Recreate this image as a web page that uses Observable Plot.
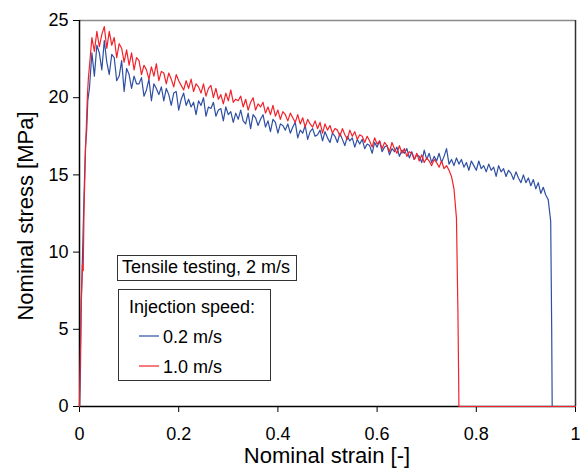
<!DOCTYPE html>
<html><head><meta charset="utf-8">
<script src="https://cdn.jsdelivr.net/npm/d3@7"></script>
<script src="https://cdn.jsdelivr.net/npm/@observablehq/plot@0.6"></script>
<style>body{margin:0;background:#fff;} #chart{width:580px;height:469px;}</style>
</head><body><div id="chart"></div>
<script>
const seriesNames = ["0.2 m/s", "1.0 m/s"];
const seriesColors = ["#2E4FA3", "#F2222B"];
const xTicks = [0, 0.2, 0.4, 0.6, 0.8, 1];
const yTicks = [0, 5, 10, 15, 20, 25];
const xLabel = "Nominal strain [-]";
const yLabel = "Nominal stress [MPa]";
const testLabel = "Tensile testing, 2 m/s";
const legendTitle = "Injection speed:";

const blueStrain = [0, 0.002, 0.0035, 0.005, 0.0067, 0.009, 0.012, 0.0145, 0.0167,
 0.020,0.025,0.030,0.035,0.040,0.045,0.050,0.055,0.060,0.065,
 0.070,0.075,0.080,0.085,0.090,0.095,0.100,0.105,0.110,0.115,
 0.120,0.125,0.130,0.135,0.140,0.145,0.150,0.155,0.160,0.165,
 0.170,0.175,0.180,0.185,0.190,0.195,0.200,0.205,0.210,0.215,
 0.220,0.225,0.230,0.235,0.240,0.245,0.250,0.255,0.260,0.265,
 0.270,0.275,0.280,0.285,0.290,0.295,0.300,0.305,0.310,0.315,
 0.320,0.325,0.330,0.335,0.340,0.345,0.350,0.355,0.360,0.365,
 0.370,0.375,0.380,0.385,0.390,0.395,0.400,0.405,0.410,0.415,
 0.420,0.425,0.430,0.435,0.440,0.445,0.450,0.455,0.460,0.465,
 0.470,0.475,0.480,0.485,0.490,0.495,0.500,0.505,0.510,0.515,
 0.520,0.525,0.530,0.535,0.540,0.545,0.550,0.555,0.560,0.565,
 0.570,0.575,0.580,0.585,0.590,0.595,0.600,0.605,0.610,0.615,
 0.620,0.625,0.630,0.635,0.640,0.645,0.650,0.655,0.660,0.665,
 0.670,0.675,0.680,0.685,0.690,0.695,0.700,0.705,0.710,0.715,
 0.720,0.725,0.730,0.735,0.740,0.745,0.750,0.755,0.760,0.765,
 0.770,0.775,0.780,0.785,0.790,0.795,0.800,0.805,0.810,0.815,
 0.820,0.825,0.830,0.835,0.840,0.845,0.850,0.855,0.860,0.865,
 0.870,0.875,0.880,0.885,0.890,0.895,0.900,0.905,0.910,0.915,
 0.920,0.925,0.930,0.935,0.940,0.945,0.950,0.952,0.953,1.0];
const blueStress = [0, 2.5, 6.9, 8.4, 10.6, 13.5, 16.8, 17.9, 19.8,
 20.6, 22.9, 21.4, 23.4, 22.9, 21.8, 23.7, 22.3, 21.5, 22.8,
 22.6, 21.1, 21.4, 22.4, 20.4, 21.9, 21.5, 20.6, 21.4, 20.9,
 20.9, 21.3, 20.1, 20.5, 21.2, 19.8, 20.9, 20.6, 20.2, 20.7,
 19.8, 20.6, 20.2, 19.5, 20.3, 20.4, 19.2, 19.9, 20.3, 19.5,
 19.9, 19.4, 19.7, 18.9, 19.8, 19.5, 20.0, 18.8, 19.4, 19.3,
 19.7, 18.8, 19.2, 19.3, 18.5, 19.4, 18.9, 19.1, 18.4, 19.0,
 18.6, 19.2, 18.5, 18.3, 19.0, 18.0, 18.9, 18.7, 18.2, 18.6,
 18.9, 18.1, 18.5, 17.8, 18.6, 18.4, 17.7, 18.3, 18.2, 17.9,
 18.3, 17.7, 18.1, 18.4, 17.4, 17.9, 17.7, 18.2, 17.3, 17.8,
 18.0, 17.5, 17.6, 17.9, 17.2, 17.8, 17.4, 17.1, 17.7, 17.5,
 17.1, 17.7, 17.3, 16.9, 17.5, 17.2, 17.4, 16.8, 17.3, 17.0,
 17.3, 16.7, 17.0, 16.9, 16.4, 17.1, 16.8, 17.2, 16.5, 16.8,
 16.9, 16.3, 16.7, 16.5, 16.8, 16.2, 16.6, 16.4, 16.7, 16.1,
 16.5, 16.0, 16.3, 16.2, 15.8, 16.6, 16.0, 16.4, 15.8, 16.2,
 15.9, 16.4, 15.8, 16.2, 16.7, 15.7, 16.0, 15.6, 16.1, 15.7,
 16.0, 15.5, 15.8, 15.3, 15.9, 15.6, 15.3, 15.9, 15.4, 15.6,
 15.2, 15.7, 15.3, 15.5, 14.9, 15.6, 15.2, 15.4, 14.9, 15.3,
 15.1, 14.7, 15.2, 14.8, 14.5, 15.0, 14.5, 14.8, 14.3, 14.7,
 14.1, 14.5, 13.8, 14.2, 13.7, 13.4, 12.0, 5.0, 0, 0];

const redStrain = [0, 0.003, 0.006, 0.0075, 0.009, 0.012, 0.016, 0.018,
 0.020,0.025,0.030,0.035,0.040,0.045,0.050,0.055,0.060,0.065,
 0.070,0.075,0.080,0.085,0.090,0.095,0.100,0.105,0.110,0.115,
 0.120,0.125,0.130,0.135,0.140,0.145,0.150,0.155,0.160,0.165,
 0.170,0.175,0.180,0.185,0.190,0.195,0.200,0.205,0.210,0.215,
 0.220,0.225,0.230,0.235,0.240,0.245,0.250,0.255,0.260,0.265,
 0.270,0.275,0.280,0.285,0.290,0.295,0.300,0.305,0.310,0.315,
 0.320,0.325,0.330,0.335,0.340,0.345,0.350,0.355,0.360,0.365,
 0.370,0.375,0.380,0.385,0.390,0.395,0.400,0.405,0.410,0.415,
 0.420,0.425,0.430,0.435,0.440,0.445,0.450,0.455,0.460,0.465,
 0.470,0.475,0.480,0.485,0.490,0.495,0.500,0.505,0.510,0.515,
 0.520,0.525,0.530,0.535,0.540,0.545,0.550,0.555,0.560,0.565,
 0.570,0.575,0.580,0.585,0.590,0.595,0.600,0.605,0.610,0.615,
 0.620,0.625,0.630,0.635,0.640,0.645,0.650,0.655,0.660,0.665,
 0.670,0.675,0.680,0.685,0.690,0.695,0.700,0.705,0.710,0.715,
 0.720,0.725,0.730,0.735,0.740,0.745,0.750,0.755,0.760,0.763,0.765,1.0];
const redStress = [0, 6.0, 9.2, 8.8, 12.5, 16.5, 20.2, 21.3,
 22.0, 23.9, 23.0, 24.3, 23.3, 24.1, 24.6, 23.2, 24.3, 23.4,
 23.9, 22.6, 23.5, 23.2, 22.3, 23.1, 22.1, 22.9, 21.8, 22.6,
 22.4, 21.5, 22.1, 21.8, 21.2, 22.0, 21.4, 22.2, 21.1, 21.7,
 21.6, 20.9, 21.6, 21.2, 20.7, 21.5, 21.1, 20.8, 20.5, 21.1,
 20.6, 21.2, 20.4, 20.9, 20.7, 20.3, 20.9, 20.1, 20.6, 20.8,
 20.0, 20.6, 19.9, 20.2, 19.6, 20.3, 19.8, 20.5, 19.7, 19.9,
 19.8, 20.1, 19.4, 19.9, 19.2, 19.7, 20.0, 19.2, 19.6, 19.4,
 19.7, 19.0, 19.4, 18.9, 19.5, 18.8, 19.2, 18.6, 19.1, 18.9,
 18.5, 19.0, 18.7, 18.4, 18.9, 18.3, 18.7, 18.1, 18.6, 18.3,
 18.1, 18.5, 18.0, 18.4, 17.7, 18.3, 17.9, 18.2, 17.7, 18.0,
 17.9, 17.5, 18.0, 17.6, 17.3, 17.9, 17.5, 17.8, 17.3, 17.6,
 17.5, 17.1, 17.5, 17.2, 16.8, 17.4, 17.0, 17.2, 16.7, 17.1,
 16.9, 16.5, 17.1, 16.7, 16.4, 16.9, 16.4, 16.7, 16.2, 16.5,
 16.4, 16.0, 16.4, 15.9, 16.3, 15.8, 16.1, 15.9, 15.6, 16.0,
 15.8, 15.5, 15.9, 15.4, 15.6, 15.3, 14.9, 14.1, 12.2, 6.0, 0, 0];

const toRows = (xs, ys, name) => xs.slice(0, Math.min(xs.length, ys.length)).map((s, i) => ({strain: s, stress: ys[i], series: name}));
const blueRows = toRows(blueStrain, blueStress, seriesNames[0]);
const redRows = toRows(redStrain, redStress, seriesNames[1]);

const plot = Plot.plot({
  width: 580, height: 469,
  marginLeft: 79, marginRight: 5, marginTop: 20, marginBottom: 63,
  style: {fontFamily: "'Liberation Sans', Arial, sans-serif", fontSize: "18px", color: "#000", background: "#fff"},
  x: {domain: [0, 1]},
  y: {domain: [0, 25]},
  marks: [
    Plot.ruleY([25], {stroke: "#8a8a8a", strokeWidth: 1.5}),
    Plot.ruleX([1], {stroke: "#333", strokeWidth: 1.5}),
    Plot.axisX({ticks: xTicks, tickSize: 6, tickPadding: 15, tickFormat: d => String(d), label: null, fontSize: 18}),
    Plot.axisY({ticks: yTicks, tickSize: 6, tickPadding: 5, tickFormat: d => String(d), label: null, fontSize: 18}),
    Plot.ruleX([0], {stroke: "#000", strokeWidth: 1.5}),
    Plot.ruleY([0], {stroke: "#000", strokeWidth: 1.5}),
    Plot.line(blueRows, {x: "strain", y: "stress", stroke: seriesColors[0], strokeWidth: 1.2}),
    Plot.line(redRows, {x: "strain", y: "stress", stroke: seriesColors[1], strokeWidth: 1.2})
  ]
});

const svg = d3.select(plot);
svg.append("text")
  .attr("transform", "translate(25,216) rotate(-90)")
  .attr("text-anchor", "middle").attr("dominant-baseline", "central")
  .style("font-size", "22px").attr("fill", "#000").text(yLabel);
svg.append("text")
  .attr("x", 327).attr("y", 463)
  .attr("text-anchor", "middle")
  .style("font-size", "22px").attr("fill", "#000").text(xLabel);

const g = svg.append("g").style("font-size", "18px").attr("text-anchor", "start");
g.append("rect").attr("x", 117.5).attr("y", 255.5).attr("width", 179).attr("height", 25)
  .attr("fill", "#fff").attr("stroke", "#333");
g.append("text").attr("x", 122).attr("y", 273).attr("text-anchor", "start").attr("fill", "#000").text(testLabel);
g.append("rect").attr("x", 118.5).attr("y", 289.5).attr("width", 152).attr("height", 91)
  .attr("fill", "#fff").attr("stroke", "#333");
g.append("text").attr("x", 129).attr("y", 313).attr("text-anchor", "start").attr("fill", "#000").text(legendTitle);
seriesNames.forEach((name, i) => {
  const yy = 336 + i * 30;
  g.append("line").attr("x1", 139).attr("x2", 159).attr("y1", yy).attr("y2", yy)
    .attr("stroke", seriesColors[i]).attr("stroke-width", 1.2);
  g.append("text").attr("x", 163).attr("y", yy + 6.5).attr("text-anchor", "start").attr("fill", "#000").text(name);
});

document.getElementById("chart").appendChild(plot);
</script>
</body></html>
